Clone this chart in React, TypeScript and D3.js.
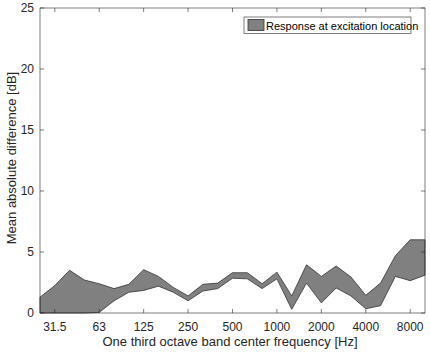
import React from "react";
import * as d3 from "d3";

const bands = ["25","31.5","40","50","63","80","100","125","160","200","250","315","400","500","630","800","1000","1250","1600","2000","2500","3150","4000","5000","6300","8000","10000"];
const upper = [1.3,2.25,3.5,2.7,2.4,2.0,2.35,3.55,3.0,2.1,1.4,2.35,2.45,3.3,3.3,2.4,3.35,1.4,3.95,3.0,3.85,2.95,1.45,2.45,4.7,6.0,6.0];
const lower = [0,0,0,0,0.05,1.0,1.7,1.85,2.2,1.7,1.0,1.8,2.0,2.85,2.8,2.0,2.8,0.3,2.45,0.83,2.05,1.4,0.35,0.6,3.0,2.65,3.1];
const tickLabels = ["31.5","63","125","250","500","1000","2000","4000","8000"];
const yTicks = [0,5,10,15,20,25];
const legendLabel = "Response at excitation location";

export default function App() {
  const W = 430, H = 352;
  const L = 40, R = 425, T = 8, B = 313;
  const x = d3.scaleLinear().domain([0, bands.length - 1]).range([L, R]);
  const y = d3.scaleLinear().domain([0, 25]).range([B, T]);
  const area = d3.area<number>()
    .x((_, i) => x(i))
    .y0((_, i) => y(lower[i]))
    .y1((d) => y(d));
  const ax = "#262626";
  const font = "Liberation Sans, Arial, sans-serif";
  return (
    <svg width={W} height={H} style={{ position: "absolute", left: 0, top: 0 }} fontFamily={font}>
      <rect x={0} y={0} width={W} height={H} fill="#fff" />
      <path d={area(upper) || ""} fill="#808080" stroke="#333" strokeWidth={0.8} />
      <rect x={L} y={T} width={R - L} height={B - T} fill="none" stroke={ax} strokeWidth={0.6} />
      {tickLabels.map((t) => {
        const xi = x(bands.indexOf(t));
        return (
          <g key={t}>
            <line x1={xi} x2={xi} y1={B} y2={B - 4} stroke={ax} strokeWidth={0.6} />
            <line x1={xi} x2={xi} y1={T} y2={T + 4} stroke={ax} strokeWidth={0.6} />
            <text x={xi} y={B + 17.5} textAnchor="middle" fontSize={12} fill={ax}>{t}</text>
          </g>
        );
      })}
      {yTicks.map((t) => (
        <g key={t}>
          <line x1={L} x2={L + 4} y1={y(t)} y2={y(t)} stroke={ax} strokeWidth={0.6} />
          <line x1={R} x2={R - 4} y1={y(t)} y2={y(t)} stroke={ax} strokeWidth={0.6} />
          <text x={L - 6} y={y(t) + 4} textAnchor="end" fontSize={12} fill={ax}>{t}</text>
        </g>
      ))}
      <text x={230} y={346} textAnchor="middle" fontSize={13} fill={ax}>One third octave band center frequency [Hz]</text>
      <text transform={`translate(16,158) rotate(-90)`} textAnchor="middle" fontSize={13} fill={ax}>Mean absolute difference [dB]</text>
      <g>
        <rect x={244} y={17} width={167} height={16.5} fill="#fff" stroke={ax} strokeWidth={0.6} />
        <rect x={248} y={19.5} width={16} height={11} fill="#808080" stroke="#333" strokeWidth={0.8} />
        <text x={266} y={29.5} fontSize={11} fill="#000">{legendLabel}</text>
      </g>
    </svg>
  );
}
